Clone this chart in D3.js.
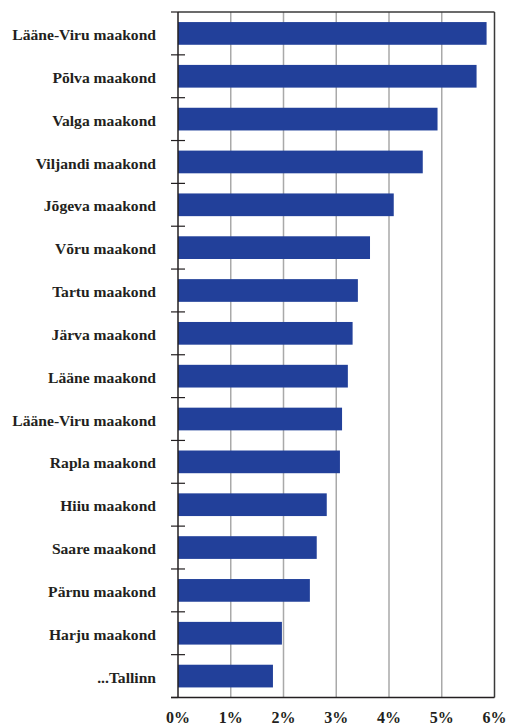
<!DOCTYPE html>
<html>
<head>
<meta charset="utf-8">
<script src="https://cdn.jsdelivr.net/npm/d3@7"></script>
<style>
  html, body { margin: 0; padding: 0; background: #fff; }
  svg { display: block; }
  text { font-family: "Liberation Serif", "Times New Roman", serif; font-weight: bold; fill: #231f20; }
</style>
</head>
<body>
<svg id="chart" width="507" height="725"></svg>
<script>
const categories = [
  "Lääne-Viru maakond", "Põlva maakond", "Valga maakond", "Viljandi maakond",
  "Jõgeva maakond", "Võru maakond", "Tartu maakond", "Järva maakond",
  "Lääne maakond", "Lääne-Viru maakond", "Rapla maakond", "Hiiu maakond",
  "Saare maakond", "Pärnu maakond", "Harju maakond", "...Tallinn"
];
const values = [5.85, 5.66, 4.92, 4.64, 4.09, 3.64, 3.41, 3.31, 3.22, 3.11, 3.07, 2.82, 2.63, 2.50, 1.97, 1.80];
const xTicks = [0, 1, 2, 3, 4, 5, 6];

const margin = { top: 12, right: 12.5, bottom: 27.5, left: 178 };
const W = 507, H = 725;
const iw = W - margin.left - margin.right;
const ih = H - margin.top - margin.bottom;

const svg = d3.select("#chart");
const g = svg.append("g").attr("transform", `translate(${margin.left},${margin.top})`);

const x = d3.scaleLinear().domain([0, 6]).range([0, iw]);
const idx = categories.map((d, i) => i);
const y = d3.scaleBand().domain(idx).range([0, ih]).paddingInner(0.47).paddingOuter(0.235);

// gridlines
g.selectAll(".grid").data(xTicks.slice(1, -1)).enter().append("line")
  .attr("x1", d => x(d)).attr("x2", d => x(d))
  .attr("y1", 0).attr("y2", ih)
  .attr("stroke", "#a9a9a9").attr("stroke-width", 1.5);

// top & right border
g.append("line").attr("x1", 0).attr("x2", iw).attr("y1", 0).attr("y2", 0)
  .attr("stroke", "#3a3a3a").attr("stroke-width", 1.3);
g.append("line").attr("x1", iw).attr("x2", iw).attr("y1", 0).attr("y2", ih)
  .attr("stroke", "#3a3a3a").attr("stroke-width", 1.5);

// bars
g.selectAll(".bar").data(values).enter().append("rect")
  .attr("x", 0)
  .attr("y", (d, i) => y(i))
  .attr("width", d => x(d))
  .attr("height", y.bandwidth())
  .attr("fill", "#22409a");

// category boundary ticks
const step = ih / categories.length;
const bounds = d3.range(categories.length + 1).map(i => i * step);
g.selectAll(".ytick").data(bounds).enter().append("line")
  .attr("x1", -7).attr("x2", (d, i) => (i === 0 || i === categories.length) ? 0 : 7)
  .attr("y1", d => d).attr("y2", d => d)
  .attr("stroke", "#231f20").attr("stroke-width", 1.2);

// left axis
g.append("line").attr("x1", 0).attr("x2", 0).attr("y1", 0).attr("y2", ih)
  .attr("stroke", "#231f20").attr("stroke-width", 1.5);
// bottom axis
g.append("line").attr("x1", -7).attr("x2", iw).attr("y1", ih).attr("y2", ih)
  .attr("stroke", "#231f20").attr("stroke-width", 1.5);

// category labels
g.selectAll(".ylab").data(categories).enter().append("text")
  .attr("x", -22)
  .attr("y", (d, i) => y(i) + y.bandwidth() / 2)
  .attr("dy", "0.42em")
  .attr("text-anchor", "end")
  .attr("font-size", 15.6)
  .text(d => d);

// x tick labels
g.selectAll(".xlab").data(xTicks).enter().append("text")
  .attr("x", d => x(d))
  .attr("y", ih + 25)
  .attr("text-anchor", "middle")
  .attr("font-size", 16)
  .text(d => d + "%");
</script>
</body>
</html>
